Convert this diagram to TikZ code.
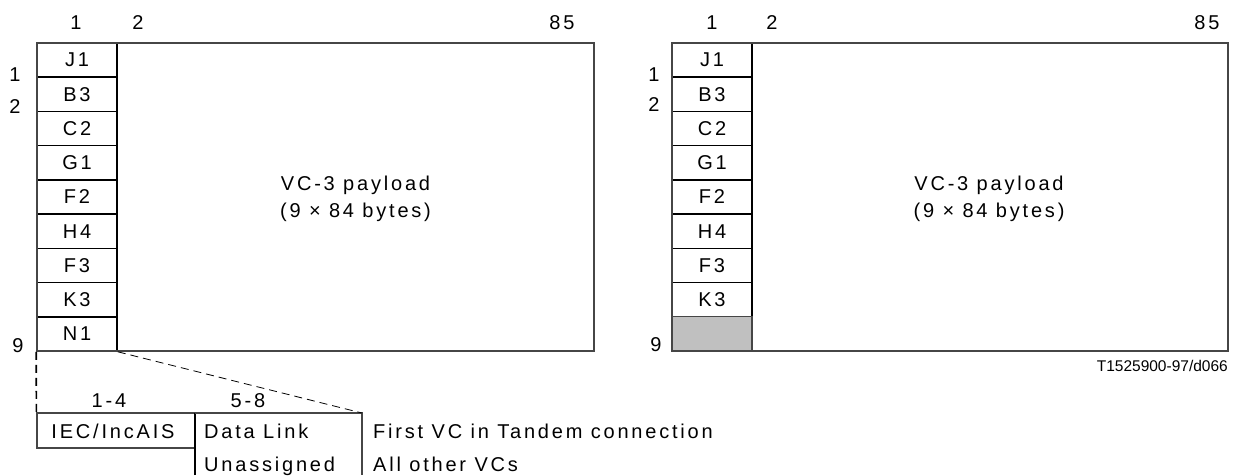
\documentclass[tikz,border=0pt]{standalone}
\usepackage{fontspec}
\setmainfont{Liberation Sans}[LetterSpace=14]
\newfontfamily\idfont{Liberation Sans}
\definecolor{cellgray}{RGB}{192,192,192}
\definecolor{framegray}{RGB}{70,70,70}
\tikzset{
  x=1pt, y=-1pt,
  every node/.style={font=\fontsize{20}{22}\selectfont, inner sep=0pt},
  cell/.style={draw=black, line width=1.6pt, minimum width=80pt, minimum height=34.22pt},
  frame/.style={draw=framegray, line width=1.3pt, minimum width=#1, minimum height=308pt},
  lbl/.style={anchor=base},
  ddash/.style={dashed, dash pattern=on 8pt off 5pt},
}
\begin{document}
\begin{tikzpicture}
\useasboundingbox (0,0) rectangle (1237,475);
% ---------- left structure ----------
\foreach \t [count=\i from 0] in {J1,B3,C2,G1,F2,H4,F3,K3,N1}{
  \node[cell] (L\i) at (77,{43+34.22*(\i+0.5)}) {\t};
}
\node[frame=557pt] (LF) at (315.5,197) {};
\node[align=center, font=\fontsize{20}{26.5}\selectfont] (Lp) at (355.5,199) {VC-3 payload\\(9 × 84 bytes)};
\node[lbl] (Lc1) at (76,29) {1};
\node[lbl] (Lc2) at (138,29) {2};
\node[lbl] (Lc85) at (562,29) {85};
\node[lbl] (Lr1) at (15,81) {1};
\node[lbl] (Lr2) at (15,113) {2};
\node[lbl] (Lr9) at (18,352) {9};
% ---------- right structure ----------
\foreach \t [count=\i from 0] in {J1,B3,C2,G1,F2,H4,F3,K3}{
  \node[cell] (R\i) at (712,{43+34.22*(\i+0.5)}) {\t};
}
\node[cell, fill=cellgray, draw=framegray, line width=1.3pt] (R8) at (712,{43+34.22*8.5}) {};
\node[frame=556pt] (RF) at (950,197) {};
\node[align=center, font=\fontsize{20}{26.5}\selectfont] (Rp) at (989,199) {VC-3 payload\\(9 × 84 bytes)};
\node[lbl] (Rc1) at (712,29) {1};
\node[lbl] (Rc2) at (772,29) {2};
\node[lbl] (Rc85) at (1207,29) {85};
\node[lbl] (Rr1) at (654,81) {1};
\node[lbl] (Rr2) at (654,111) {2};
\node[lbl] (Rr9) at (656,351) {9};
\node[anchor=base east, font=\idfont\fontsize{15.5}{17}\selectfont] (id) at (1228,371) {T1525900-97/d066};
% ---------- N1 byte expansion ----------
\node[draw=framegray, line width=1.3pt, minimum width=158pt, minimum height=35pt] (iec) at (116,430.5) {};
\node[anchor=base] (iect) at (113,438) {IEC/IncAIS};
\coordinate (dlsw) at (195,475);
\coordinate (dlnw) at (195,413);
\coordinate (dlne) at (362,413);
\coordinate (dlse) at (362,475);
\draw[black, line width=1.6pt] (dlsw) -- (dlnw);
\draw[framegray, line width=1.3pt] (dlnw) -- (dlne) -- (dlse);
\node[anchor=base west] (dl1) at (204,438) {Data Link};
\node[anchor=base west] (dl2) at (204,471) {Unassigned};
\node[anchor=base west] (m1) at (373,438) {First VC in Tandem connection};
\node[anchor=base west] (m2) at (373,471) {All other VCs};
\node[lbl] (b14) at (109,407) {1-4};
\node[lbl] (b58) at (248,407) {5-8};
\draw[ddash, line width=1.6pt] (L8.south west) -- (iec.north west);
\draw[ddash, line width=0.8pt] (L8.south east) -- (dlne);
\end{tikzpicture}
\end{document}
